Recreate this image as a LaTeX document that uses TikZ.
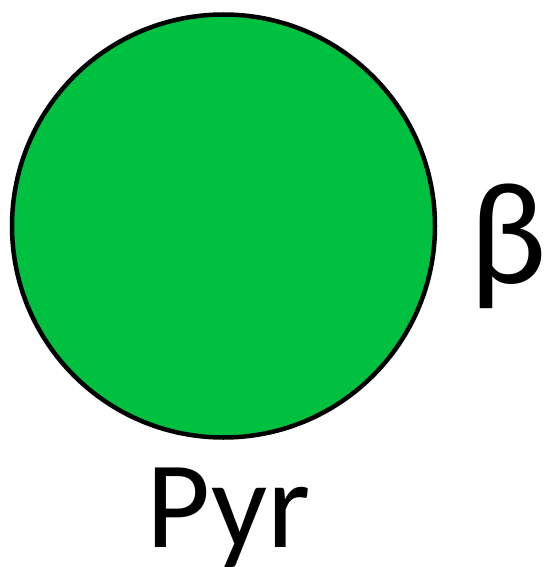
\documentclass[tikz,border=0pt]{standalone}
\usepackage{fontspec}
\setmainfont{Carlito}
\definecolor{cellgreen}{RGB}{0,192,64}
\begin{document}
\begin{tikzpicture}[x=1pt,y=1pt,
  cell/.style={circle,draw=black,line width=4.5pt,fill=cellgreen,minimum size=423pt,inner sep=0pt},
  lbl/.style={inner sep=0pt}]
\useasboundingbox (0,0) rectangle (551,-567);
\node[cell] (c) at (223.5,-226) {};
\node[lbl,anchor=base,font=\fontsize{124}{124}\selectfont] (pyr) at (229,-547) {Pyr};
\node[lbl,anchor=base west,font=\fontsize{146}{146}\selectfont] (beta) at (469,-283) {β};
\end{tikzpicture}
\end{document}
